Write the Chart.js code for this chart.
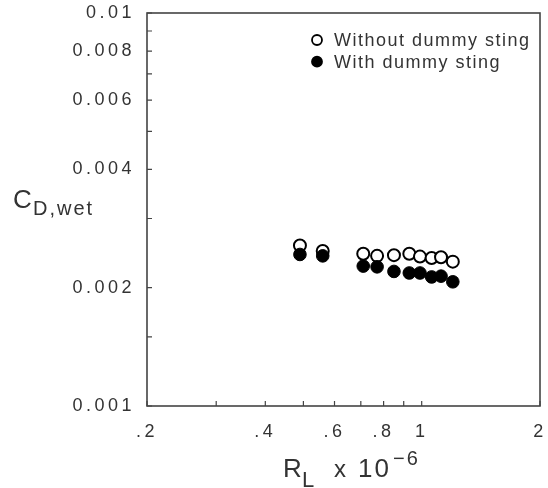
<!DOCTYPE html>
<html><head><meta charset="utf-8">
<script src="https://cdn.jsdelivr.net/npm/chart.js@4/dist/chart.umd.min.js"></script>
<style>html,body{margin:0;padding:0;background:#fff;} #wrap{width:548px;height:488px;position:relative;}</style>
</head><body><div id="wrap"><canvas id="c"></canvas></div>
<script>
const seriesLabels = ['Without dummy sting', 'With dummy sting'];
const reynolds = [0.49, 0.56, 0.71, 0.77, 0.85, 0.93, 0.99, 1.06, 1.12, 1.20];
const cdWithout = [0.00256, 0.00248, 0.00244, 0.00241, 0.00242, 0.00244, 0.00240, 0.00238, 0.00239, 0.00233];
const cdWith = [0.00243, 0.00241, 0.00227, 0.00226, 0.00220, 0.00218, 0.00218, 0.00213, 0.00214, 0.00207];
const xTickValues = [0.2, 0.4, 0.6, 0.8, 1, 2];
const xTickLabels = ['.2', '.4', '.6', '.8', '1', '2'];
const xMinorTicks = [0.3, 0.5, 0.7, 0.9];
const yTickValues = [0.001, 0.002, 0.004, 0.006, 0.008, 0.01];
const yTickLabels = ['0.001', '0.002', '0.004', '0.006', '0.008', '0.01'];
const yMinorTicks = [0.0015, 0.003, 0.005, 0.007, 0.009];

const FONT = "'Liberation Sans', Arial, sans-serif";
const TEXT = '#333';
const LINE = '#444';

function pts(xs, ys) { return xs.map((x, i) => ({ x: x, y: ys[i] })); }

const spacingPlugin = {
  id: 'spacing',
  beforeLayout(chart) { chart.ctx.letterSpacing = '3.5px'; },
  beforeDraw(chart) { chart.ctx.letterSpacing = '3.5px'; }
};

const framePlugin = {
  id: 'frame',
  beforeDatasetsDraw(chart) {
    const ctx = chart.ctx, a = chart.chartArea;
    const xs = chart.scales.x, ys = chart.scales.y;
    ctx.save();
    ctx.letterSpacing = '0px';
    ctx.strokeStyle = LINE;
    ctx.lineWidth = 1.6;
    ctx.strokeRect(a.left, a.top, a.right - a.left, a.bottom - a.top);
    ctx.lineWidth = 1.2;
    ctx.beginPath();
    xTickValues.concat(xMinorTicks).forEach(v => {
      const p = xs.getPixelForValue(v);
      ctx.moveTo(p, a.bottom); ctx.lineTo(p, a.bottom - 5);
    });
    yTickValues.concat(yMinorTicks).forEach(v => {
      const p = ys.getPixelForValue(v);
      ctx.moveTo(a.left, p); ctx.lineTo(a.left + 5, p);
    });
    ctx.stroke();
    ctx.restore();
  }
};

const legendPlugin = {
  id: 'customLegend',
  afterDraw(chart) {
    const ctx = chart.ctx;
    ctx.save();
    ctx.letterSpacing = '1.5px';
    ctx.font = '18px ' + FONT;
    ctx.textBaseline = 'middle';
    ctx.textAlign = 'left';
    chart.data.datasets.forEach((ds, i) => {
      const cy = 40 + i * 21.7, cx = 317;
      ctx.beginPath();
      ctx.arc(cx, cy, 5, 0, Math.PI * 2);
      ctx.fillStyle = ds.backgroundColor;
      ctx.fill();
      ctx.lineWidth = 1.8;
      ctx.strokeStyle = '#000';
      ctx.stroke();
      ctx.fillStyle = TEXT;
      ctx.fillText(ds.label, 334, cy + 1);
    });
    ctx.restore();
  }
};

const titlePlugin = {
  id: 'axisTitles',
  afterDraw(chart) {
    const ctx = chart.ctx, a = chart.chartArea;
    ctx.save();
    ctx.fillStyle = TEXT;
    ctx.textAlign = 'left';
    ctx.textBaseline = 'alphabetic';
    // x title: R_L x 10^-6
    const bx = 283, by = a.bottom + 71;
    ctx.letterSpacing = '1px';
    ctx.font = '26px ' + FONT; ctx.fillText('R', bx, by);
    ctx.font = '22px ' + FONT; ctx.fillText('L', bx + 19, by + 10);
    ctx.font = '24px ' + FONT; ctx.fillText('x', bx + 51, by);
    ctx.letterSpacing = '2px';
    ctx.font = '26px ' + FONT; ctx.fillText('10', bx + 75, by);
    ctx.font = '20px ' + FONT; ctx.fillText('\u22126', bx + 110, by - 12);
    // y title: C_D,wet
    const tx = 13, ty = 208;
    ctx.letterSpacing = '1px';
    ctx.font = '26px ' + FONT; ctx.fillText('C', tx, ty);
    ctx.letterSpacing = '2px';
    ctx.font = '20px ' + FONT; ctx.fillText('D,wet', tx + 20, ty + 7);
    ctx.restore();
  }
};

new Chart(document.getElementById('c'), {
  type: 'scatter',
  data: {
    datasets: [
      { label: seriesLabels[0], data: pts(reynolds, cdWithout), order: 1,
        backgroundColor: '#ffffff', borderColor: '#000000', borderWidth: 2,
        pointRadius: 6, pointHoverRadius: 6 },
      { label: seriesLabels[1], data: pts(reynolds, cdWith), order: 0,
        backgroundColor: '#000000', borderColor: '#000000', borderWidth: 1,
        pointRadius: 6.3, pointHoverRadius: 6.3 }
    ]
  },
  options: {
    responsive: true,
    maintainAspectRatio: false,
    animation: false,
    events: [],
    layout: { padding: { left: 0, top: 13, right: 3, bottom: 0 } },
    plugins: { legend: { display: false }, tooltip: { enabled: false }, title: { display: false } },
    scales: {
      x: {
        type: 'logarithmic', min: 0.2, max: 2,
        grid: { display: false, drawTicks: false },
        border: { display: false },
        afterBuildTicks(s) { s.ticks = xTickValues.map(v => ({ value: v })); },
        afterFit(s) { s.height = 82; s.paddingLeft = 0; s.paddingRight = 0; },
        ticks: {
          autoSkip: false, maxRotation: 0, padding: 15,
          color: TEXT, font: { family: FONT, size: 18 },
          callback: (v, i) => xTickLabels[i]
        }
      },
      y: {
        type: 'logarithmic', min: 0.001, max: 0.01,
        grid: { display: false, drawTicks: false },
        border: { display: false },
        afterBuildTicks(s) { s.ticks = yTickValues.map(v => ({ value: v })); },
        afterFit(s) { s.width = 147; s.paddingTop = 0; s.paddingBottom = 0; },
        ticks: {
          autoSkip: false, padding: 12,
          color: TEXT, font: { family: FONT, size: 18 },
          callback: (v, i) => yTickLabels[i]
        }
      }
    }
  },
  plugins: [spacingPlugin, framePlugin, legendPlugin, titlePlugin]
});
</script>
</body></html>
